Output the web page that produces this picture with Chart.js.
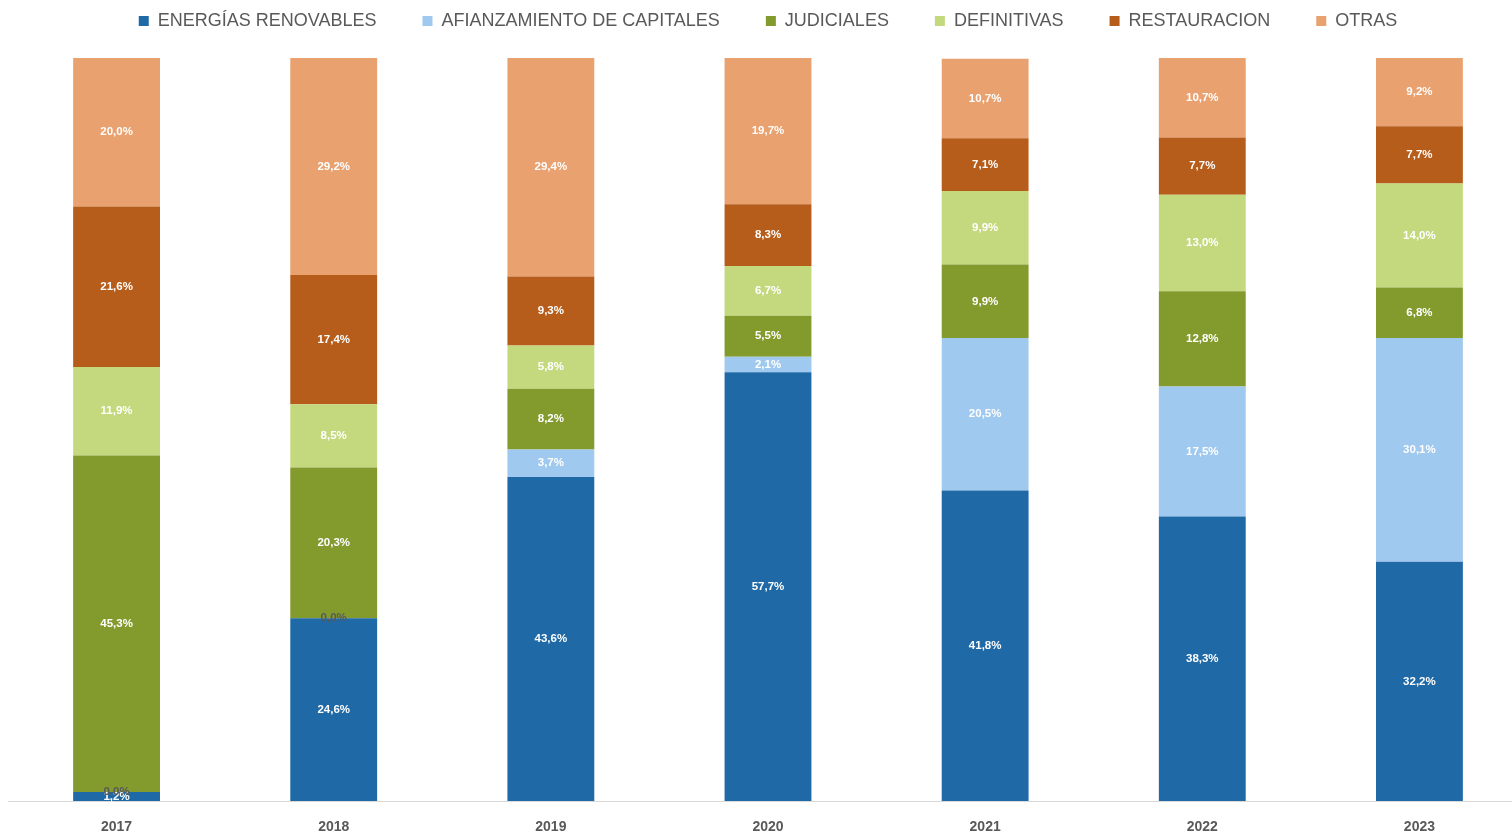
<!DOCTYPE html>
<html>
<head>
<meta charset="utf-8">
<script src="https://cdn.jsdelivr.net/npm/chart.js@4.4.1/dist/chart.umd.min.js"></script>
<style>
  html, body { margin: 0; padding: 0; background: #fff; overflow: hidden; }
  #wrap { width: 1528px; height: 834px; }
</style>
</head>
<body>
<div id="wrap"><canvas id="mix-chart"></canvas></div>
<script>
const years = ['2017', '2018', '2019', '2020', '2021', '2022', '2023'];
const renovables = [1.2, 24.6, 43.6, 57.7, 41.8, 38.3, 32.2];
const afianzamiento = [0.0, 0.0, 3.7, 2.1, 20.5, 17.5, 30.1];
const judiciales = [45.3, 20.3, 8.2, 5.5, 9.9, 12.8, 6.8];
const definitivas = [11.9, 8.5, 5.8, 6.7, 9.9, 13.0, 14.0];
const restauracion = [21.6, 17.4, 9.3, 8.3, 7.1, 7.7, 7.7];
const otras = [20.0, 29.2, 29.4, 19.7, 10.7, 10.7, 9.2];

const font = "'Liberation Sans', Arial, sans-serif";
const legendPad = 46;

// draws the value in the middle of each segment
const segmentLabels = {
  id: 'segmentLabels',
  afterDatasetsDraw(chart) {
    const ctx = chart.ctx;
    ctx.save();
    ctx.font = 'bold 11.5px ' + font;
    ctx.textAlign = 'center';
    ctx.textBaseline = 'middle';
    chart.data.datasets.forEach((ds, i) => {
      const meta = chart.getDatasetMeta(i);
      meta.data.forEach((bar, j) => {
        const v = ds.data[j];
        const y = (bar.y + bar.base) / 2;
        ctx.fillStyle = v === 0 ? '#595959' : '#ffffff';
        ctx.fillText(v.toFixed(1).replace('.', ',') + '%', bar.x, y);
      });
    });
    ctx.restore();
  }
};

// wide gaps between legend items but legend kept near the top
const legendSpacing = {
  id: 'legendSpacing',
  beforeInit(chart) {
    const fit = chart.legend.fit;
    chart.legend.fit = function () {
      fit.bind(chart.legend)();
      this.height = 58;
    };
  },
  afterLayout(chart) {
    chart.legend.top = 12 - legendPad;
  }
};

const mix_ctx = document.getElementById('mix-chart').getContext('2d');
const mixChart = new Chart(mix_ctx, {
  type: 'bar',
  plugins: [segmentLabels, legendSpacing],
  data: {
    labels: years,
    datasets: [
      { label: 'ENERGÍAS RENOVABLES', data: renovables, backgroundColor: '#1f69a7' },
      { label: 'AFIANZAMIENTO DE CAPITALES', data: afianzamiento, backgroundColor: '#9fc9ee' },
      { label: 'JUDICIALES', data: judiciales, backgroundColor: '#839a2d' },
      { label: 'DEFINITIVAS', data: definitivas, backgroundColor: '#c4d97e' },
      { label: 'RESTAURACION', data: restauracion, backgroundColor: '#b75d1b' },
      { label: 'OTRAS', data: otras, backgroundColor: '#e9a16f' }
    ]
  },
  options: {
    responsive: true,
    maintainAspectRatio: false,
    animation: false,
    layout: { padding: { left: 8, right: 0, top: 0, bottom: 0 } },
    datasets: {
      bar: { barPercentage: 0.4, categoryPercentage: 1.0 }
    },
    scales: {
      x: {
        stacked: true,
        grid: { display: false },
        border: { display: true, color: '#d9d9d9', width: 1 },
        afterFit(scale) {
          scale.height = 33;
        },
        ticks: {
          color: '#595959',
          font: { family: font, size: 14, weight: 'bold' },
          padding: 10
        }
      },
      y: {
        stacked: true,
        display: false,
        min: 0,
        max: 100
      }
    },
    plugins: {
      legend: {
        position: 'top',
        labels: {
          boxWidth: 10,
          boxHeight: 10,
          padding: legendPad,
          color: '#595959',
          font: { family: font, size: 18 }
        }
      },
      tooltip: { enabled: false }
    }
  }
});
</script>
</body>
</html>
